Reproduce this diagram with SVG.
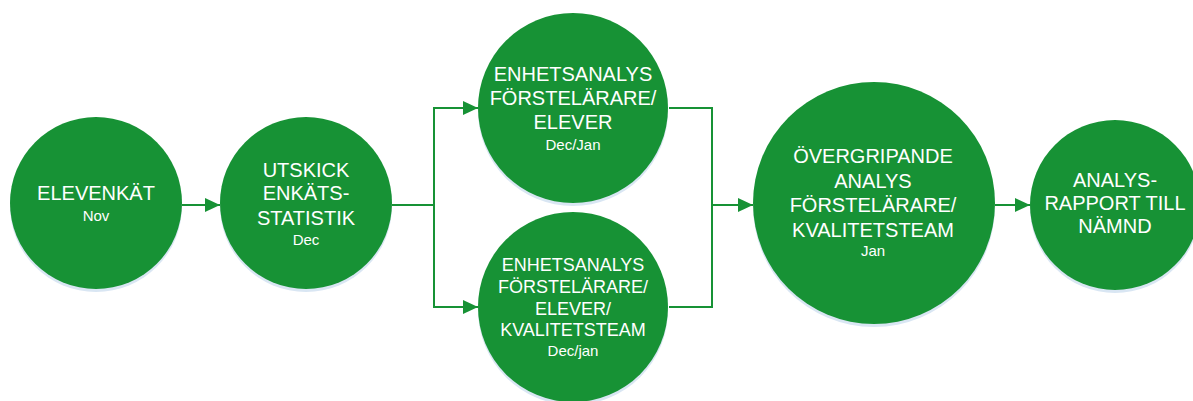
<svg xmlns="http://www.w3.org/2000/svg" width="1193" height="401" viewBox="0 0 1193 401">
<style>
.sh{fill:#d9e6f3}
.c{fill:#179235}
.t{fill:#ffffff;font-family:"Liberation Sans",Arial,sans-serif;text-anchor:middle}
.b{font-size:20px}
.m{font-size:18px}
.s{font-size:15px}
.ln{fill:none;stroke:#179235;stroke-width:2}
</style>
<defs>
<marker id="ah" markerUnits="userSpaceOnUse" markerWidth="16" markerHeight="14" refX="15" refY="7" orient="auto">
<path d="M0,0 L15,7 L0,14 Z" fill="#179235"/>
</marker>
</defs>
<rect width="1193" height="401" fill="#ffffff"/>
<g id="connectors">
<line class="ln" x1="182" y1="205" x2="220" y2="205" marker-end="url(#ah)"/>
<polyline class="ln" points="392,205 434,205"/>
<polyline class="ln" points="434,307 434,108 478,108" marker-end="url(#ah)"/>
<polyline class="ln" points="434,205 434,307 478,307" marker-end="url(#ah)"/>
<polyline class="ln" points="669,108 712,108 712,307 669,307"/>
<line class="ln" x1="712" y1="205" x2="753" y2="205" marker-end="url(#ah)"/>
<line class="ln" x1="995" y1="205" x2="1030" y2="205" marker-end="url(#ah)"/>
</g>
<g id="n1">
<circle class="sh" cx="96" cy="206" r="86"/>
<circle class="c" cx="96" cy="203" r="86"/>
<text class="t b" x="96" y="200">ELEVENKÄT</text>
<text class="t s" x="96" y="221">Nov</text>
</g>
<g id="n2">
<circle class="sh" cx="306" cy="206" r="86"/>
<circle class="c" cx="306" cy="203" r="86"/>
<text class="t b" x="306" y="177">UTSKICK</text>
<text class="t b" x="306" y="200">ENKÄTS-</text>
<text class="t b" x="306" y="225">STATISTIK</text>
<text class="t s" x="306" y="245">Dec</text>
</g>
<g id="n3">
<circle class="sh" cx="573" cy="111" r="95"/>
<circle class="c" cx="573" cy="108" r="95"/>
<text class="t b" x="573" y="81">ENHETSANALYS</text>
<text class="t b" x="573" y="105">FÖRSTELÄRARE/</text>
<text class="t b" x="573" y="129">ELEVER</text>
<text class="t s" x="573" y="150">Dec/Jan</text>
</g>
<g id="n4">
<circle class="sh" cx="573" cy="310" r="95"/>
<circle class="c" cx="573" cy="307" r="95"/>
<text class="t m" x="573" y="271">ENHETSANALYS</text>
<text class="t m" x="573" y="293">FÖRSTELÄRARE/</text>
<text class="t m" x="573" y="315">ELEVER/</text>
<text class="t m" x="573" y="336">KVALITETSTEAM</text>
<text class="t s" x="573" y="356">Dec/jan</text>
</g>
<g id="n5">
<circle class="sh" cx="874" cy="206" r="121"/>
<circle class="c" cx="874" cy="203" r="121"/>
<text class="t b" x="873" y="163">ÖVERGRIPANDE</text>
<text class="t b" x="873" y="188">ANALYS</text>
<text class="t b" x="873" y="212">FÖRSTELÄRARE/</text>
<text class="t b" x="873" y="237">KVALITETSTEAM</text>
<text class="t s" x="873" y="256">Jan</text>
</g>
<g id="n6">
<circle class="sh" cx="1115" cy="208" r="85"/>
<circle class="c" cx="1115" cy="205" r="85"/>
<text class="t b" x="1115" y="187">ANALYS-</text>
<text class="t b" x="1115" y="210">RAPPORT TILL</text>
<text class="t b" x="1115" y="233">NÄMND</text>
</g>
</svg>
